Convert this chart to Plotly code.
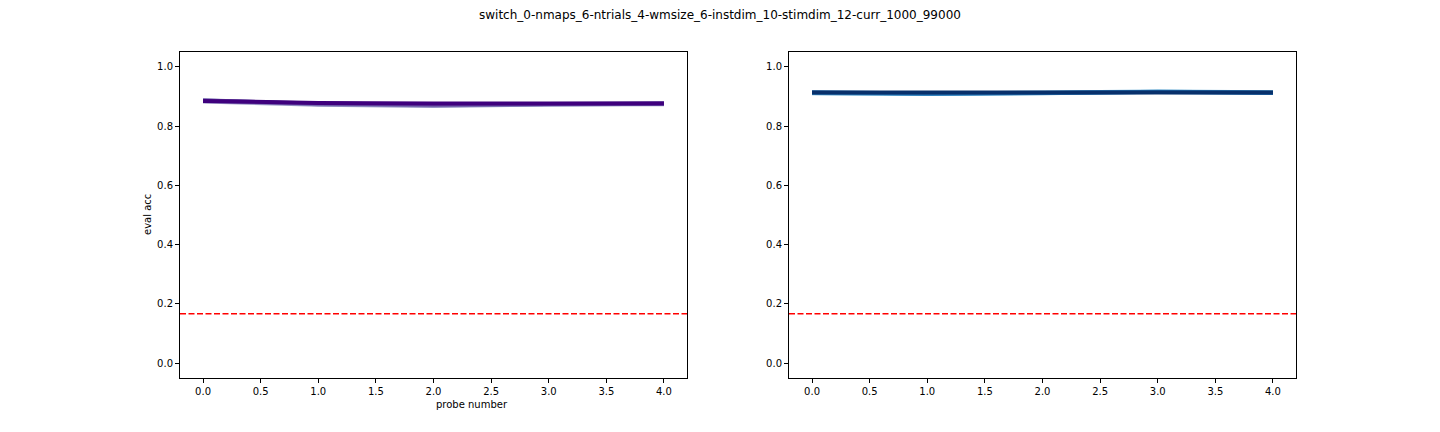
import plotly.graph_objects as go
from plotly.subplots import make_subplots

# ── data ─────────────────────────────────────────────
TITLE = "switch_0-nmaps_6-ntrials_4-wmsize_6-instdim_10-stimdim_12-curr_1000_99000"
probe = [0, 1, 2, 3, 4]
chance = 1 / 6

# left panel: several runs, light -> dark (dark drawn last)
left_runs = [
    [0.883, 0.872, 0.868, 0.873, 0.874],
    [0.887, 0.874, 0.870, 0.874, 0.875],
    [0.886, 0.876, 0.872, 0.876, 0.877],
    [0.885, 0.878, 0.876, 0.877, 0.876],
]
left_colors = ["#9e9ac8", "#807dba", "#6a51a3", "#3f007d"]

# right panel
right_runs = [
    [0.911, 0.909, 0.913, 0.917, 0.914],
    [0.912, 0.908, 0.911, 0.916, 0.913],
    [0.914, 0.910, 0.912, 0.915, 0.912],
    [0.913, 0.912, 0.913, 0.913, 0.913],
]
right_colors = ["#6baed6", "#4292c6", "#2171b5", "#08306b"]

xticks = [0.0, 0.5, 1.0, 1.5, 2.0, 2.5, 3.0, 3.5, 4.0]
yticks = [0.0, 0.2, 0.4, 0.6, 0.8, 1.0]

# page body has an 8px margin -> figure is 16px smaller, positions shifted by 8
OFF = 8
W, H = 1440 - 2 * OFF, 432 - 2 * OFF
FONT = "DejaVu Sans"


def px_x(p):
    return (p - OFF) / W


def px_y(p):
    return 1 - (p - OFF) / H


fig = make_subplots(rows=1, cols=2)

for runs, colors, col in [(left_runs, left_colors, 1), (right_runs, right_colors, 2)]:
    for vals, c in zip(runs, colors):
        fig.add_trace(
            go.Scatter(x=probe, y=vals, mode="lines",
                       line=dict(color=c, width=4), showlegend=False),
            row=1, col=col,
        )
    fig.add_hline(y=chance, line=dict(color="red", width=1.6, dash="6px,2.5px"),
                  row=1, col=col)

axis_style = dict(
    showline=True, linecolor="black", linewidth=1, mirror=True,
    ticks="outside", ticklen=4, tickcolor="black", showgrid=False,
    zeroline=False, tickfont=dict(family=FONT, size=10, color="black"),
)

fig.update_xaxes(range=[-0.2, 4.2], tickvals=xticks, tickformat=".1f", **axis_style)
fig.update_yaxes(range=[-0.05, 1.05], tickvals=yticks, tickformat=".1f", **axis_style)

fig.update_layout(
    width=W, height=H,
    margin=dict(l=0, r=0, t=0, b=0),
    plot_bgcolor="white", paper_bgcolor="white",
    xaxis=dict(domain=[px_x(180), px_x(687)]),
    xaxis2=dict(domain=[px_x(789), px_x(1296)]),
    yaxis=dict(domain=[px_y(378), px_y(52)]),
    yaxis2=dict(domain=[px_y(378), px_y(52)]),
    font=dict(family=FONT, color="black"),
    annotations=[
        dict(text=TITLE, x=px_x(720), y=px_y(15), xref="paper", yref="paper",
             showarrow=False, font=dict(family=FONT, size=12), yanchor="middle"),
        dict(text="probe number", x=px_x(433.5), y=px_y(404), xref="paper", yref="paper",
             showarrow=False, font=dict(family=FONT, size=10), yanchor="middle"),
        dict(text="eval acc", x=px_x(147), y=px_y(215), xref="paper", yref="paper",
             showarrow=False, textangle=-90, font=dict(family=FONT, size=10),
             xanchor="center", yanchor="middle"),
    ],
)

fig.write_html("out.html")
